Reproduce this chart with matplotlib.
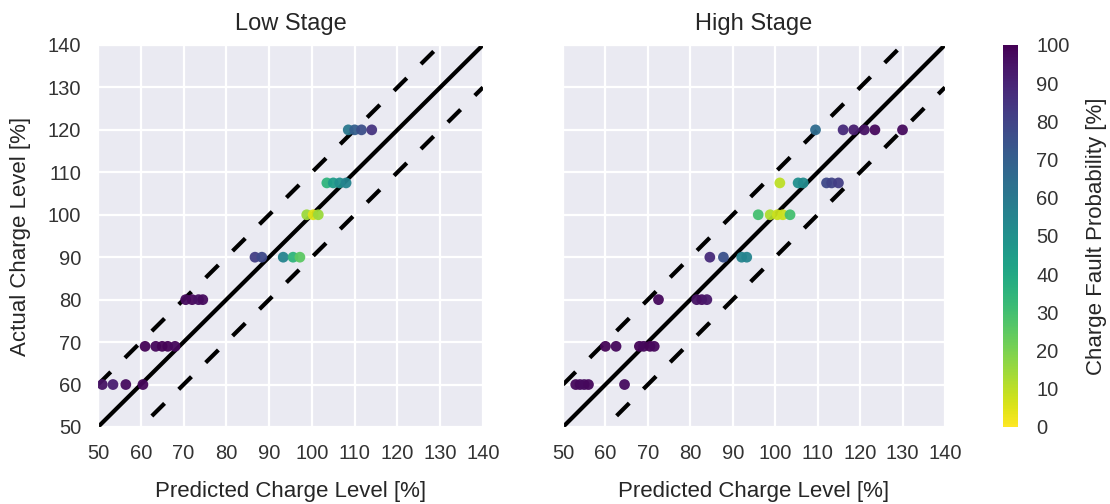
import matplotlib
matplotlib.use("Agg")
import matplotlib.pyplot as plt
import seaborn as sns
import numpy as np

sns.set_style("darkgrid")
plt.rcParams['font.family'] = ['Liberation Sans', 'DejaVu Sans']

# Low stage data
low_pred = [51, 53.5, 56.5, 60.5,
            61, 63.5, 65, 66.3, 68,
            70.5, 72, 73.5, 74.5,
            86.7, 88.3, 93.3, 95.6, 97.2,
            98.8, 100.3, 101.5,
            103.5, 105, 106.5, 108,
            108.5, 110, 111.6, 114]
low_act = [60, 60, 60, 60,
           69, 69, 69, 69, 69,
           80, 80, 80, 80,
           90, 90, 90, 90, 90,
           100, 100, 100,
           107.5, 107.5, 107.5, 107.5,
           120, 120, 120, 120]
low_prob = [95, 92, 97, 98,
            99, 98, 99, 99, 98,
            97, 98, 96, 97,
            82, 78, 55, 35, 25,
            15, 5, 15,
            35, 45, 50, 55,
            60, 70, 76, 85]

# High stage data
high_pred = [53, 54, 55, 56, 64.5,
             60, 62.5, 68, 69, 70.5, 71.5,
             72.5, 81.5, 82.7, 83.9,
             84.6, 87.8, 92.1, 93.3,
             96, 98.8, 100.5, 101.8, 103.5,
             101.1, 105.4, 106.6, 112.1, 113.3, 114.9,
             109.5, 116, 118.5, 121, 123.5, 130]
high_act = [60, 60, 60, 60, 60,
            69, 69, 69, 69, 69, 69,
            80, 80, 80, 80,
            90, 90, 90, 90,
            100, 100, 100, 100, 100,
            107.5, 107.5, 107.5, 107.5, 107.5, 107.5,
            120, 120, 120, 120, 120, 120]
high_prob = [98, 98, 97, 98, 97,
             99, 98, 99, 98, 99, 98,
             98, 95, 96, 94,
             88, 75, 55, 55,
             30, 12, 8, 8, 30,
             10, 50, 52, 78, 80, 82,
             65, 88, 92, 95, 98, 97]

ref_x = [50, 140]
ticks = np.arange(50, 141, 10)

fig = plt.figure(figsize=(11.1, 5.04), dpi=100)
ax1 = fig.add_axes([0.0883, 0.1528, 0.3468, 0.758])
ax2 = fig.add_axes([0.5072, 0.1528, 0.3441, 0.758])
cax = fig.add_axes([0.9036, 0.1528, 0.0135, 0.758])

cmap = plt.get_cmap('viridis_r')
dash = (0, (4.3, 4.8))
for ax, px, ay, pr, title in [(ax1, low_pred, low_act, low_prob, 'Low Stage'),
                               (ax2, high_pred, high_act, high_prob, 'High Stage')]:
    sc = ax.scatter(px, ay, c=pr, cmap=cmap, vmin=0, vmax=100, s=60,
                    edgecolors='none', alpha=0.95, zorder=3)
    xs = np.array(ref_x)
    ax.plot(xs, xs, color='black', lw=3, zorder=2)
    ax.plot(xs, xs + 10, color='black', lw=3, ls=dash, zorder=2)
    ax.plot(xs, xs - 10, color='black', lw=3, ls=dash, zorder=2)
    ax.set_xlim(50, 140)
    ax.set_ylim(50, 140)
    ax.set_xticks(ticks)
    ax.set_yticks(ticks)
    ax.set_title(title, fontsize=17, pad=11, color='#262626')
    ax.set_xlabel('Predicted Charge Level [%]', fontsize=16, labelpad=13,
                  color='#262626')
    ax.tick_params(labelsize=14.5, colors='#333333', length=0, pad=12)
    ax.grid(color='white', lw=1.6)

ax1.set_ylabel('Actual Charge Level [%]', fontsize=16, labelpad=12,
               color='#262626')
ax2.set_yticklabels([])

cb = fig.colorbar(sc, cax=cax)
cb.solids.set_alpha(1)
cb.outline.set_visible(False)
cb.set_ticks(np.arange(0, 101, 10))
cb.ax.tick_params(labelsize=14.5, colors='#333333', length=0, pad=13)
cb.set_label('Charge Fault Probability [%]', fontsize=16, labelpad=12,
             color='#262626')

fig.savefig('out.png', dpi=100)
